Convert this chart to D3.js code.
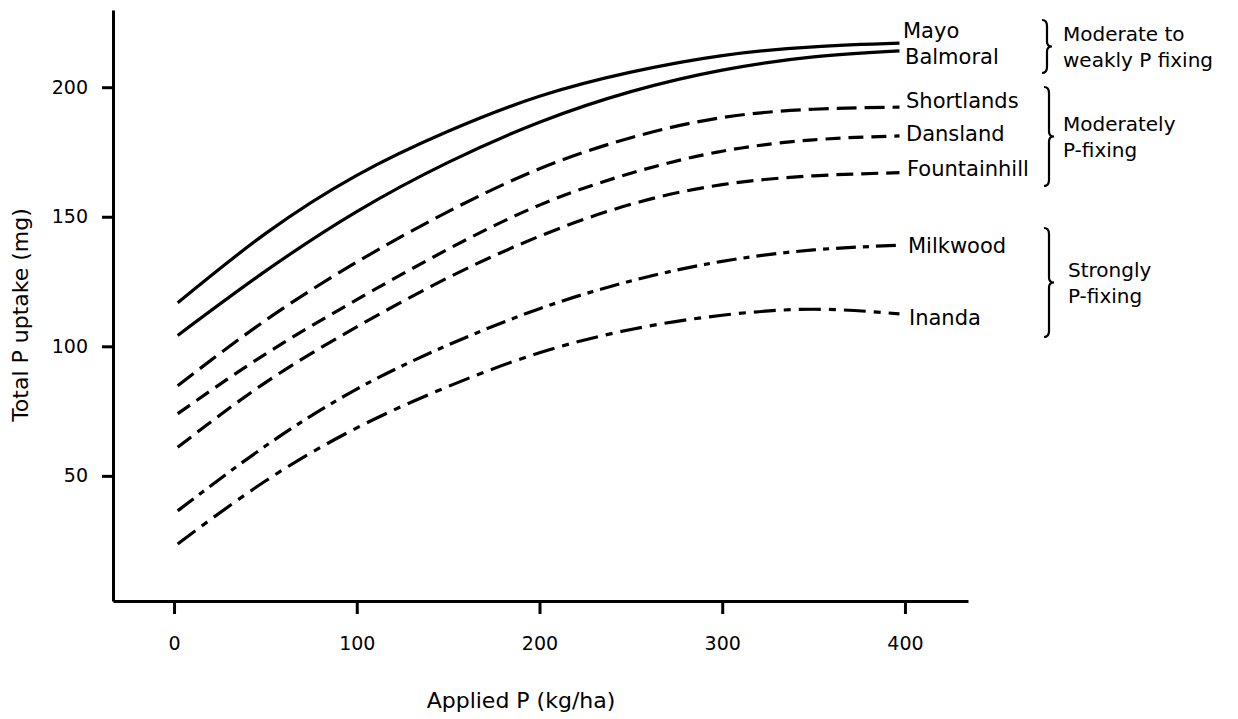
<!DOCTYPE html>
<html>
<head>
<meta charset="utf-8">
<script src="https://d3js.org/d3.v7.min.js"></script>
<style>
  body { margin: 0; background: #fff; }
  svg text { font-family: "DejaVu Sans", sans-serif; fill: #000; }
</style>
</head>
<body>
<svg id="chart" width="1238" height="719"></svg>
<script>
// applied P (kg/ha) at which each curve was read
const xs = [2, 50, 100, 150, 200, 250, 300, 350, 397];

const soils = ["Mayo", "Balmoral", "Shortlands", "Dansland", "Fountainhill", "Milkwood", "Inanda"];

// total P uptake (mg)
const mayo         = [116.8, 143.5, 166, 183, 196.5, 205.8, 212.2, 215.6, 217];
const balmoral     = [104.2, 129, 152, 171, 186.5, 198.3, 206.6, 211.7, 214];
const shortlands   = [84.8, 110, 132.5, 152, 168.5, 180.5, 188.3, 191.5, 192.3];
const dansland     = [74, 97, 118, 137.5, 154.5, 166.8, 175.3, 179.7, 181.2];
const fountainhill = [61, 86, 107.5, 126.5, 142.5, 154.8, 162.4, 165.8, 167];
const milkwood     = [36.5, 61.5, 83.5, 100.5, 114.5, 125.2, 132.8, 137.2, 139];
const inanda       = [23.7, 48, 68.5, 84.5, 97.5, 106.5, 112, 114.3, 112.5];

const xTicks = [0, 100, 200, 300, 400];
const yTicks = [50, 100, 150, 200];

const groups = [
    {lines: ["Moderate to", "weakly P fixing"], top: 20, bottom: 73},
    {lines: ["Moderately", "P-fixing"], top: 87, bottom: 186},
    {lines: ["Strongly", "P-fixing"], top: 228, bottom: 337}
];

const series = [mayo, balmoral, shortlands, dansland, fountainhill, milkwood, inanda];

// line styles and label placement
const dashes = [null, null, "20,8", "15,8", "17,8", "20,7,6,7", "22,8,7,8"];
const labelY = [31, 57, 101, 134, 169, 246, 318];
const labelX = [903, 905, 906, 906, 907, 908, 909];

const svg = d3.select("#chart");

const x = d3.scaleLinear().domain([-33.4, 434.5]).range([113, 968]);
const y = d3.scaleLinear().domain([1.7, 229.8]).range([601, 10]);

// axes
const xAxis = svg.append("g")
    .attr("transform", "translate(0," + y(1.7) + ")")
    .call(d3.axisBottom(x).tickValues(xTicks).tickSize(13).tickSizeOuter(0).tickPadding(23));
const yAxis = svg.append("g")
    .attr("transform", "translate(" + x(-33.4) + ",0)")
    .call(d3.axisLeft(y).tickValues(yTicks).tickSize(11).tickSizeOuter(0).tickPadding(14));

[xAxis, yAxis].forEach(a => {
    a.select(".domain").attr("stroke", "#000").attr("stroke-width", 3);
    a.selectAll(".tick line").attr("stroke", "#000").attr("stroke-width", 3);
    a.selectAll(".tick text")
        .style("font-family", "DejaVu Sans")
        .style("font-size", "19px")
        .attr("fill", "#000");
});

svg.append("text")
    .attr("x", 521)
    .attr("y", 708)
    .attr("text-anchor", "middle")
    .style("font-size", "22px")
    .text("Applied P (kg/ha)");

svg.append("text")
    .attr("transform", "translate(28,315) rotate(-90)")
    .attr("text-anchor", "middle")
    .style("font-size", "22px")
    .text("Total P uptake (mg)");

// curves
const line = d3.line()
    .x(d => x(d[0]))
    .y(d => y(d[1]))
    .curve(d3.curveNatural);

series.forEach((vals, i) => {
    svg.append("path")
        .datum(xs.map((v, j) => [v, vals[j]]))
        .attr("d", line)
        .attr("fill", "none")
        .attr("stroke", "#000")
        .attr("stroke-width", 3.2)
        .attr("stroke-dasharray", dashes[i]);

    svg.append("text")
        .attr("x", labelX[i])
        .attr("y", labelY[i])
        .attr("dy", "0.35em")
        .style("font-size", "21px")
        .text(soils[i]);
});

// braces and group labels
function brace(x0, y1, y2) {
    const ym = (y1 + y2) / 2, w = 5;
    return "M" + x0 + "," + y1 +
        " Q" + (x0 + w) + "," + y1 + " " + (x0 + w) + "," + (y1 + 6) +
        " L" + (x0 + w) + "," + (ym - 5) +
        " Q" + (x0 + w) + "," + ym + " " + (x0 + 2 * w) + "," + ym +
        " Q" + (x0 + w) + "," + ym + " " + (x0 + w) + "," + (ym + 5) +
        " L" + (x0 + w) + "," + (y2 - 6) +
        " Q" + (x0 + w) + "," + y2 + " " + x0 + "," + y2;
}

groups.forEach((g, i) => {
    const bx = i === 0 ? 1042 : 1044;
    svg.append("path")
        .attr("d", brace(bx, g.top, g.bottom))
        .attr("fill", "none")
        .attr("stroke", "#000")
        .attr("stroke-width", 2.2);

    const mid = (g.top + g.bottom) / 2;
    const tx = i === 2 ? 1068 : 1063;
    g.lines.forEach((t, k) => {
        svg.append("text")
            .attr("x", tx)
            .attr("y", mid - 13 + k * 26)
            .attr("dy", "0.35em")
            .style("font-size", "20px")
            .text(t);
    });
});
</script>
</body>
</html>
